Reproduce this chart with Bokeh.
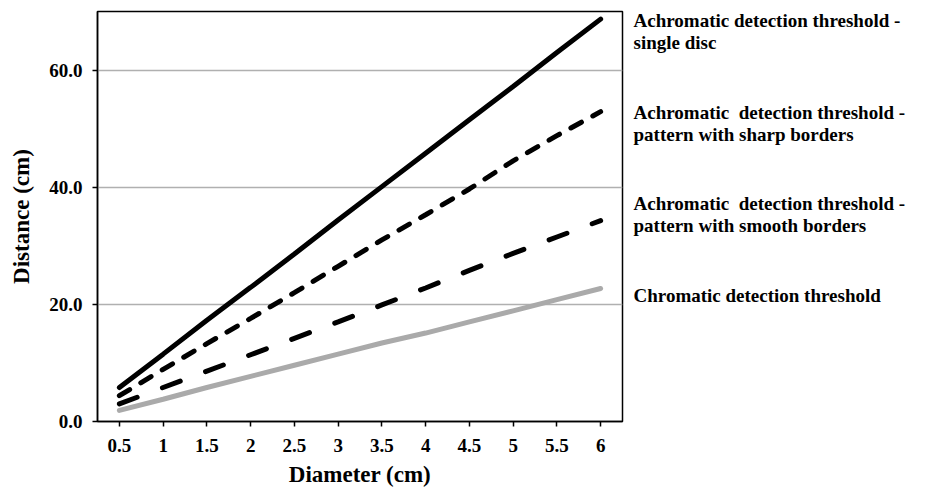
from bokeh.plotting import figure
from bokeh.layouts import row
from bokeh.models import FixedTicker, PrintfTickFormatter, Range1d
from bokeh.core.properties import value
from bokeh.embed import file_html
from bokeh.resources import INLINE

diameter = [0.5, 1, 1.5, 2, 2.5, 3, 3.5, 4, 4.5, 5, 5.5, 6]
single_disc = [5.8, 11.5, 17.3, 22.9, 28.6, 34.4, 40.1, 45.8, 51.5, 57.2, 63.0, 68.7]
sharp_borders = [4.4, 8.9, 13.3, 17.6, 22.0, 26.5, 31.0, 35.3, 39.7, 44.5, 48.8, 52.9]
smooth_borders = [3.0, 5.8, 8.6, 11.4, 14.2, 17.0, 19.9, 22.8, 25.8, 28.7, 31.5, 34.3]
chromatic = [1.9, 3.8, 5.8, 7.7, 9.6, 11.5, 13.4, 15.1, 17.0, 18.9, 20.8, 22.7]

x_ticks = [0.5, 1, 1.5, 2, 2.5, 3, 3.5, 4, 4.5, 5, 5.5, 6]
x_tick_labels = ["0.5", "1", "1.5", "2", "2.5", "3", "3.5", "4", "4.5", "5", "5.5", "6"]
y_ticks = [0, 20, 40, 60]

label_lines = [
    "Achromatic detection threshold -", "single disc",
    "Achromatic\u00a0 detection threshold -", "pattern with sharp borders",
    "Achromatic\u00a0 detection threshold -", "pattern with smooth borders",
    "Chromatic detection threshold",
]

FONT = "Liberation Serif"
TOTAL_W = 909
MAIN_W = 632
FRAME_TOP, FRAME_H, BOTTOM = 11, 410, 66

p = figure(
    frame_width=525, frame_height=FRAME_H,
    min_border_left=97, min_border_top=FRAME_TOP, min_border_right=10, min_border_bottom=BOTTOM,
    x_range=Range1d(0.25, 6.25), y_range=Range1d(0, 70),
    output_backend="svg", toolbar_location=None,
)
p.background_fill_color = "white"
p.border_fill_color = "white"
p.outline_line_color = "black"
p.outline_line_width = 1.5

p.xgrid.grid_line_color = None
p.ygrid.grid_line_color = "#b0b0b0"
p.ygrid.grid_line_width = 1.5
p.ygrid.ticker = FixedTicker(ticks=[20, 40, 60])

for ax in (p.xaxis[0], p.yaxis[0]):
    ax.axis_line_color = "black"
    ax.axis_line_width = 1.5
    ax.major_tick_line_color = "black"
    ax.major_tick_line_width = 1.5
    ax.major_tick_out = 5
    ax.major_tick_in = 0
    ax.minor_tick_line_color = None
    ax.major_label_text_font = FONT
    ax.major_label_text_font_style = "bold"
    ax.major_label_text_font_size = "19px"
    ax.major_label_text_color = "black"
    ax.axis_label_text_font = FONT
    ax.axis_label_text_font_style = "bold"
    ax.axis_label_text_font_size = "23px"
    ax.axis_label_text_color = "black"

p.xaxis.ticker = FixedTicker(ticks=x_ticks)
p.xaxis.major_label_overrides = {t: l for t, l in zip(x_ticks, x_tick_labels)}
p.xaxis.major_label_standoff = 12
p.xaxis.axis_label = "Diameter (cm)"
p.xaxis.axis_label_standoff = 7
p.yaxis.ticker = FixedTicker(ticks=y_ticks)
p.yaxis.formatter = PrintfTickFormatter(format="%.1f")
p.yaxis.major_label_standoff = 10
p.yaxis.axis_label = "Distance (cm)"
p.yaxis.axis_label_standoff = 12

p.line(diameter, chromatic, line_color="#aaaaaa", line_width=5, line_cap="round")
p.line(diameter, smooth_borders, line_color="black", line_width=5, line_dash="19 27", line_cap="round")
p.line(diameter, sharp_borders, line_color="black", line_width=5, line_dash="12 13", line_cap="round")
p.line(diameter, single_disc, line_color="black", line_width=5, line_cap="round")

# side panel with the series descriptions; its frame is aligned with the main frame,
# so the ranges map to page-like pixel positions (y downward)
side_w = TOTAL_W - MAIN_W
q = figure(
    frame_width=side_w, frame_height=FRAME_H,
    min_border_left=0, min_border_right=0, min_border_top=FRAME_TOP, min_border_bottom=BOTTOM,
    x_range=Range1d(0, side_w), y_range=Range1d(FRAME_TOP + FRAME_H, FRAME_TOP),
    output_backend="svg", toolbar_location=None,
)
q.axis.visible = False
q.grid.visible = False
q.outline_line_color = None
q.background_fill_color = "white"
q.border_fill_color = "white"

label_x = [1] * len(label_lines)
label_y = [19.7, 42.0, 112.3, 133.5, 203.0, 224.7, 294.7]
q.text(
    x=label_x, y=label_y, text=label_lines,
    text_font=value(FONT), text_font_style="bold", text_font_size="19px",
    text_color="black", text_align="left", text_baseline="alphabetic",
)

layout = row(p, q, spacing=0)
open("out.html", "w").write(file_html(layout, INLINE))
